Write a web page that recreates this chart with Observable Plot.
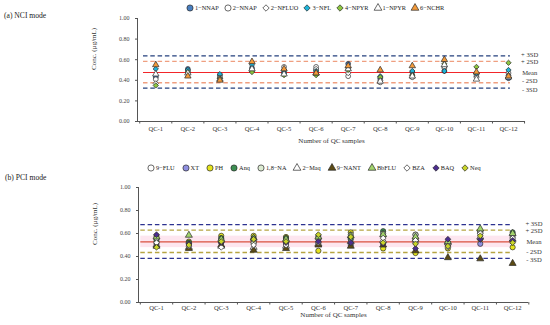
<!DOCTYPE html>
<html><head><meta charset="utf-8">
<script src="https://cdn.jsdelivr.net/npm/d3@7"></script>
<script src="https://cdn.jsdelivr.net/npm/@observablehq/plot@0.6"></script>
<style>
body{margin:0;background:#fff;font-family:"Liberation Serif","Times New Roman",serif;}
#wrap{position:relative;width:550px;height:325px;overflow:hidden;background:#fff}
.plot{position:absolute;left:0}
.legend{position:absolute;display:flex;align-items:center;font-size:6.3px;color:#222;white-space:nowrap;line-height:1}
.legend .it{display:flex;align-items:center}
.legend svg{margin-right:1px;overflow:visible}
.ptitle{position:absolute;font-size:7.6px;color:#222;white-space:nowrap}
</style></head><body><div id="wrap"></div>
<script>
// ---------- shared ----------
const qcLabels = ["QC-1","QC-2","QC-3","QC-4","QC-5","QC-6","QC-7","QC-8","QC-9","QC-10","QC-11","QC-12"];
const yTicks = [0, 0.2, 0.4, 0.6, 0.8, 1.0];
const limitLabels = ["+ 3SD", "+ 2SD", "Mean", "- 2SD", "- 3SD"];

// ---------- (a) NCI mode ----------
const nciSeries  = ["1−NNAP","2−NNAP","2−NFLUO","3−NFL","4−NPYR","1−NPYR","6−NCHR"];
const nciSymbols = ["circle","circle","diamond2","diamond2","diamond2","triangle","triangle"];
const nciColors  = ["#4a7fc0","#ffffff","#ffffff","#1eb3d9","#8cc63f","#ffffff","#f39a3a"];
const nci_1NNAP  = [0.43,0.51,0.45,0.52,0.48,0.50,0.56,0.42,0.48,0.49,0.46,0.42];
const nci_2NNAP  = [0.41,0.49,0.43,0.50,0.53,0.53,0.44,0.38,0.43,0.52,0.44,0.47];
const nci_2NFLUO = [0.37,0.47,0.42,0.49,0.50,0.51,0.47,0.40,0.45,0.53,0.43,0.45];
const nci_3NFL   = [0.51,0.50,0.46,0.55,0.47,0.49,0.52,0.44,0.49,0.49,0.47,0.50];
const nci_4NPYR  = [0.35,0.48,0.42,0.48,0.45,0.45,0.50,0.43,0.45,0.56,0.53,0.57];
const nci_1NPYR  = [0.46,0.47,0.41,0.51,0.46,0.47,0.51,0.39,0.44,0.55,0.41,0.43];
const nci_6NCHR  = [0.55,0.44,0.40,0.58,0.51,0.47,0.54,0.50,0.54,0.60,0.48,0.44];
const nciValues  = [nci_1NNAP,nci_2NNAP,nci_2NFLUO,nci_3NFL,nci_4NPYR,nci_1NPYR,nci_6NCHR];
const nciLimits  = [0.638, 0.583, 0.476, 0.376, 0.324];

// ---------- (b) PCI mode ----------
const pciSeries  = ["9−FLU","XT","PH","Anq","1,8−NA","2−Maq","9−NANT","BbFLU","BZA","BAQ","Neq"];
const pciSymbols = ["circle","circle","circle","circle","circle","triangle","triangle","triangle","diamond2","diamond2","diamond2"];
const pciColors  = ["#ffffff","#8f8fe0","#e4e41c","#3d8f52","#dcebd2","#ffffff","#5c4b14","#a2d46c","#ffffff","#4b2d8f","#c8d42a"];
const pci_9FLU   = [0.55,0.52,0.55,0.54,0.53,0.55,0.57,0.58,0.59,0.52,0.60,0.57];
const pci_XT     = [0.51,0.50,0.52,0.52,0.51,0.52,0.50,0.52,0.52,0.50,0.51,0.53];
const pci_PH     = [0.58,0.53,0.58,0.58,0.57,0.45,0.61,0.47,0.43,0.47,0.55,0.48];
const pci_Anq    = [0.53,0.52,0.56,0.56,0.56,0.58,0.55,0.62,0.56,0.52,0.62,0.61];
const pci_18NA   = [0.56,0.51,0.53,0.52,0.54,0.56,0.59,0.60,0.59,0.51,0.61,0.59];
const pci_2Maq   = [0.50,0.48,0.49,0.48,0.49,0.51,0.53,0.54,0.55,0.52,0.57,0.55];
const pci_9NANT  = [0.49,0.47,0.50,0.455,0.47,0.50,0.49,0.50,0.45,0.39,0.38,0.34];
const pci_BbFLU  = [0.57,0.585,0.55,0.56,0.55,0.57,0.58,0.59,0.57,0.53,0.64,0.60];
const pci_BZA    = [0.52,0.49,0.48,0.50,0.50,0.52,0.52,0.56,0.54,0.48,0.60,0.56];
const pci_BAQ    = [0.59,0.51,0.52,0.55,0.52,0.53,0.52,0.51,0.47,0.55,0.55,0.54];
const pci_Neq    = [0.48,0.50,0.53,0.55,0.53,0.59,0.57,0.52,0.51,0.49,0.58,0.52];
const pciValues  = [pci_9FLU,pci_XT,pci_PH,pci_Anq,pci_18NA,pci_2Maq,pci_9NANT,pci_BbFLU,pci_BZA,pci_BAQ,pci_Neq];
const pciLimits  = [0.678, 0.629, 0.527, 0.435, 0.383];
const pciBand    = [0.477, 0.577];

// ---------- drawing ----------
const wrap = document.getElementById("wrap");
const FONT = '"Liberation Serif","Times New Roman",serif';
const symMap = {circle: d3.symbolCircle, diamond2: d3.symbolDiamond2, triangle: d3.symbolTriangle};

function panel(cfg) {
  const rows = [];
  cfg.series.forEach((s, si) => cfg.values[si].forEach((v, i) => rows.push({s, si, qc: qcLabels[i], v})));
  const xi = d => qcLabels.indexOf(d.qc) + 1;
  const dashedIdx = [0, 1, 3, 4];
  const marks = [];
  if (cfg.band) {
    marks.push(Plot.rect([cfg.band], {x1: cfg.lineX[0], x2: cfg.lineX[1], y1: d => d[0], y2: d => d[1], fill: "#fde6ef"}));
  }
  marks.push(
    Plot.ruleY(dashedIdx.map(i => cfg.limits[i]), {x1: cfg.lineX[0], x2: cfg.lineX[1],
      stroke: (d, j) => (dashedIdx[j] === 0 || dashedIdx[j] === 4) ? cfg.c3 : cfg.c2,
      strokeWidth: 1.3, strokeDasharray: "4.5,2.8"}),
    Plot.ruleY([cfg.limits[2]], {x1: cfg.lineX[0], x2: cfg.lineX[1], stroke: cfg.cMean, strokeWidth: 1.1}),
    Plot.ruleX([cfg.xDomain[0]], {y1: 0, y2: 1, stroke: "#555", strokeWidth: 1}),
    Plot.ruleY([0], {stroke: "#555", strokeWidth: 1}),
    Plot.axisY({ticks: yTicks, tickFormat: d => d.toFixed(2), tickSize: 2, tickPadding: 6,
      fontSize: 6, stroke: "#555", color: "#444", label: null}),
    Plot.axisX({ticks: d3.range(0.5, 12.6, 1), tickSize: 2.5, tickFormat: () => "", stroke: "#555", label: null}),
    Plot.axisX({ticks: d3.range(1, 13), tickSize: 0, tickPadding: cfg.tickPad, tickFormat: i => qcLabels[i - 1],
      fontSize: 6.6, color: "#333", label: null}),
    Plot.text(["Conc. (µg/mL)"], {frameAnchor: "left", rotate: -90, dx: -44, fontSize: 7, fill: "#333"}),
    Plot.text(["Number of QC samples"], {frameAnchor: "bottom", dy: cfg.xLabelDy, fontSize: 7, fill: "#333"})
  );
  for (let k = 0; k < 5; k++) {
    marks.push(Plot.text([limitLabels[k]], {x: 12.66, y: cfg.limits[k], text: d => d, dy: cfg.labelDy[k],
      fontSize: 6.6, fill: "#333", textAnchor: "middle"}));
  }
  cfg.series.forEach((s, si) => {
    marks.push(Plot.dot(rows.filter(d => d.si === si), {
      x: xi, y: "v", symbol: cfg.symbols[si], fill: cfg.colors[si],
      stroke: "#2a2a2a", strokeWidth: 0.7, r: cfg.r
    }));
  });
  const svg = Plot.plot({
    width: 550, height: cfg.height,
    marginLeft: cfg.xRange[0], marginRight: 550 - cfg.xRange[1],
    marginTop: cfg.mTop, marginBottom: cfg.mBottom,
    x: {domain: cfg.xDomain, range: cfg.xRange, axis: null},
    y: {domain: [0, 1], axis: null},
    style: {fontFamily: FONT, background: "transparent", overflow: "visible", fontSize: "7px", color: "#333"},
    marks
  });
  svg.classList.add("plot");
  svg.style.position = "absolute";
  svg.style.top = cfg.top + "px";
  svg.style.left = "0px";
  wrap.appendChild(svg);
}

function legend(series, symbols, colors, left, top, gap) {
  const div = document.createElement("div");
  div.className = "legend";
  div.style.left = left + "px";
  div.style.top = top + "px";
  series.forEach((s, i) => {
    const it = document.createElement("span");
    it.className = "it";
    it.style.marginRight = gap + "px";
    const sz = symbols[i] === "circle" ? 30 : 26;
    const p = d3.symbol(symMap[symbols[i]], sz)();
    it.innerHTML = `<svg width="8" height="8" viewBox="-4 -4 8 8"><path d="${p}" fill="${colors[i]}" stroke="#2a2a2a" stroke-width="0.7"/></svg><span>${s}</span>`;
    div.appendChild(it);
  });
  wrap.appendChild(div);
}

function title(t, left, top) {
  const d = document.createElement("div");
  d.className = "ptitle";
  d.style.left = left + "px";
  d.style.top = top + "px";
  d.textContent = t;
  wrap.appendChild(d);
}

panel({series: nciSeries, symbols: nciSymbols, colors: nciColors, values: nciValues, limits: nciLimits,
  c3: "#24407e", c2: "#ef9f80", cMean: "#f2262a", top: 0, height: 155, mTop: 18, mBottom: 34,
  xDomain: [0.43, 12.53], xRange: [137, 525], lineX: [0.617, 12.06], r: 2.4, tickPad: 4.5, xLabelDy: 21,
  labelDy: [-1, 0.5, 0, -1.5, 1.8]});

panel({series: pciSeries, symbols: pciSymbols, colors: pciColors, values: pciValues, limits: pciLimits,
  band: pciBand, c3: "#2c3290", c2: "#b6a543", cMean: "#d9503f", top: 165, height: 160, mTop: 22, mBottom: 23,
  xDomain: [0.444, 12.49], xRange: [138, 528], lineX: [0.515, 11.94], r: 2.6, tickPad: 3.2, xLabelDy: 14.6,
  labelDy: [-0.5, 0.8, 0, -0.7, 1.8]});

legend(nciSeries, nciSymbols, nciColors, 186, 4, 5);
legend(pciSeries, pciSymbols, pciColors, 147, 164, 7);
title("(a) NCI mode", 4, 11);
title("(b) PCI mode", 5, 173);
</script></body></html>
